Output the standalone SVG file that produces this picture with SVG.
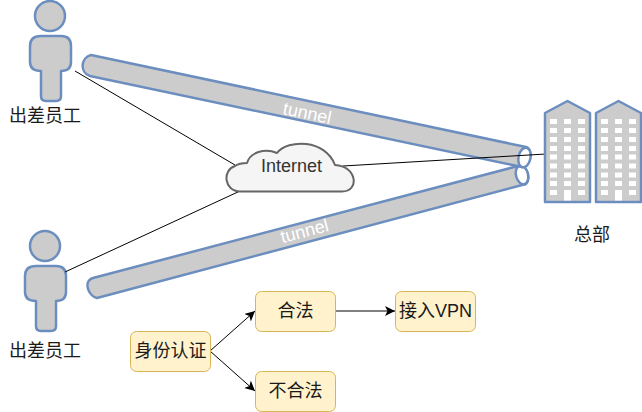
<svg xmlns="http://www.w3.org/2000/svg" width="642" height="412" viewBox="0 0 642 412">
<defs>
<style>
text{font-family:"Liberation Sans","Noto Sans CJK SC",sans-serif;font-size:18px;text-anchor:middle;fill:#1a1a1a}
.s{fill:#ccc;stroke:#6c8ebf;stroke-width:2.500;stroke-linejoin:round}
.b{fill:#fff2cc;stroke:#d6b656;stroke-width:1}
.c{fill:none;stroke:#000;stroke-width:1}
.w{fill:#fff;stroke:none}
</style>
<marker id="a" markerUnits="userSpaceOnUse" markerWidth="12" markerHeight="12" refX="10" refY="5" orient="auto"><path d="M0 0L10 5L0 10L2.500 5Z" fill="#000"/></marker>
<g id="win">
<rect class="w" x="0" y="0" width="7" height="5"/><rect class="w" x="14" y="0" width="7" height="5"/><rect class="w" x="28" y="0" width="7" height="5"/>
</g>
<g id="bld">
<path class="s" d="M0 12L22.500 0L45 12V101H0Z"/>
<use href="#win" x="5" y="18"/><use href="#win" x="5" y="27"/><use href="#win" x="5" y="36"/><use href="#win" x="5" y="45"/><use href="#win" x="5" y="53.500"/><use href="#win" x="5" y="62.500"/><use href="#win" x="5" y="71.500"/><use href="#win" x="5" y="80"/><use href="#win" x="5" y="89"/>
<rect class="w" x="19" y="89" width="7" height="10.500"/>
</g>
</defs>
<g id="person-1"><circle class="s" cx="50" cy="16" r="15"/><path class="s" d="M41 36H61Q71 36 71 46V62Q71 71 61 71V96Q61 101 56 101H46Q41 101 41 96V71Q30 71 30 62V46Q30 36 41 36Z"/></g>
<g id="person-2"><circle class="s" cx="45" cy="246" r="15"/><path class="s" d="M36 266H56Q66 266 66 276V292Q66 301 56 301V326Q56 331 51 331H41Q36 331 36 326V301Q25 301 25 292V276Q25 266 36 266Z"/></g>
<g id="tunnel-2"><path class="s" d="M93 278L518 166A6 10 -14.600 0 1 526 184L97 298C88 296 83 281 93 278Z"/><ellipse class="s" cx="522" cy="175" rx="6" ry="9.500" transform="rotate(-14.600 522 175)" style="fill:#fff"/><text transform="translate(306 237) rotate(-14.600)" style="fill:#fff">tunnel</text></g>
<g id="tunnel-1"><path class="s" d="M91 55L526 147A6 10 12 0 1 522 167L90 76C80 73 80 58 91 55Z"/><ellipse class="s" cx="524.500" cy="157.500" rx="6" ry="10" transform="rotate(12 524.500 157.500)" style="fill:#fff"/><text transform="translate(306 119) rotate(12)" style="fill:#fff">tunnel</text></g>
<g id="connectors">
<path class="c" d="M75 71L235 165"/>
<path class="c" d="M65 272L240 191"/>
<path class="c" d="M343 166L546 154"/>
<path class="c" marker-end="url(#a)" d="M210 351L255 311"/>
<path class="c" marker-end="url(#a)" d="M210 351L255 391"/>
<path class="c" marker-end="url(#a)" d="M335 311L395 311"/>
</g>
<g id="cloud"><path d="M240 191.500C224 191.500 222 170 235 166C238 164 243 163 247 163C250 152 265 148 277 153C288 139 325 139 335 165C357 166 360 191.500 342 191.500Z" style="fill:#f5f5f5;stroke:#666;stroke-width:2;stroke-linejoin:round"/><text x="291.500" y="172" style="fill:#333">Internet</text></g>
<g id="hq"><use href="#bld" x="545" y="101"/><use href="#bld" x="596" y="101"/><text x="592" y="241">总部</text></g>
<g id="label-1"><text x="45" y="122">出差员工</text></g>
<g id="label-2"><text x="45" y="357">出差员工</text></g>
<g id="auth"><rect class="b" x="130.500" y="331.500" width="80" height="40" rx="6"/><text x="170.500" y="357">身份认证</text></g>
<g id="legal"><rect class="b" x="255.500" y="291.500" width="80" height="40" rx="6"/><text x="295.500" y="317">合法</text></g>
<g id="illegal"><rect class="b" x="255.500" y="371.500" width="80" height="40" rx="6"/><text x="295.500" y="397">不合法</text></g>
<g id="vpn"><rect class="b" x="395.500" y="291.500" width="80" height="40" rx="6"/><text x="435.500" y="317">接入VPN</text></g>
</svg>
